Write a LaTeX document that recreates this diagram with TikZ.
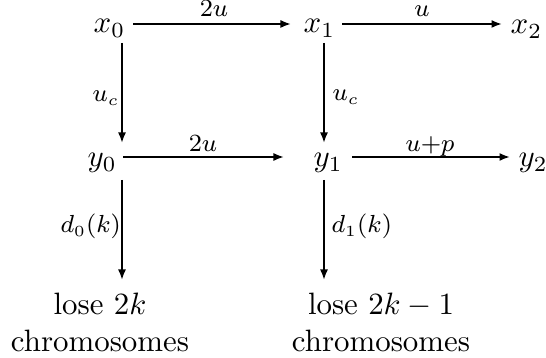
\documentclass[tikz,border=0pt]{standalone}
\usetikzlibrary{arrows.meta}
\begin{document}
\begin{tikzpicture}[x=0.3236pt,y=-0.3236pt,
  txt/.style={inner sep=0pt,font=\normalsize},
  lbl/.style={inner sep=0pt,font=\fontsize{7.6}{9}\selectfont},
  arr/.style={line width=0.6pt,-{Latex[length=3.4pt,width=2.6pt]}}]
\useasboundingbox (0,0) rectangle (546,358);
% main nodes
\node[txt,anchor=base west] (x0) at (93,33) {$x_0$};
\node[txt,anchor=base west] (x1) at (303,33) {$x_1$};
\node[txt,anchor=base west] (x2) at (510,34) {$x_2$};
\node[txt,anchor=base west] (y0) at (87,167) {$y_0$};
\node[txt,anchor=base west] (y1) at (313,167) {$y_1$};
\node[txt,anchor=base west] (y2) at (518,167) {$y_2$};
\node[txt,anchor=base] (l0) at (100,315) {lose $2k$};
\node[txt,anchor=base] (c0) at (100,352) {chromosomes};
\node[txt,anchor=base] (l1) at (381,315) {lose $2k-1$};
\node[txt,anchor=base] (c1) at (381,352) {chromosomes};
% arrow endpoints
\coordinate (p1) at (133,24);  \coordinate (q1) at (291,24);
\coordinate (p2) at (342,24);  \coordinate (q2) at (502,24);
\coordinate (p3) at (123,157); \coordinate (q3) at (284,157);
\coordinate (p4) at (352,157); \coordinate (q4) at (510,157);
\coordinate (v1) at (122,43);  \coordinate (w1) at (122,143);
\coordinate (v2) at (324,43);  \coordinate (w2) at (324,143);
\coordinate (v3) at (122,180); \coordinate (w3) at (122,280);
\coordinate (v4) at (324,180); \coordinate (w4) at (324,280);
% connectors
\draw[arr] (p1) -- (q1);
\draw[arr] (p2) -- (q2);
\draw[arr] (p3) -- (q3);
\draw[arr] (p4) -- (q4);
\draw[arr] (v1) -- (w1);
\draw[arr] (v2) -- (w2);
\draw[arr] (v3) -- (w3);
\draw[arr] (v4) -- (w4);
% labels
\node[lbl,anchor=base] (la) at (214,17) {$2u$};
\node[lbl,anchor=base] (lb) at (422,17) {$u$};
\node[lbl,anchor=base] (lc) at (203,152) {$2u$};
\node[lbl,anchor=base] (ld) at (430,152) {$u{+}p$};
\node[lbl,anchor=base west] (le) at (92,102) {$u_c$};
\node[lbl,anchor=base west] (lf) at (332,101) {$u_c$};
\node[lbl,anchor=base west] (lg) at (60,233) {$d_0(k)$};
\node[lbl,anchor=base west] (lh) at (331,233) {$d_1(k)$};
\end{tikzpicture}
\end{document}
